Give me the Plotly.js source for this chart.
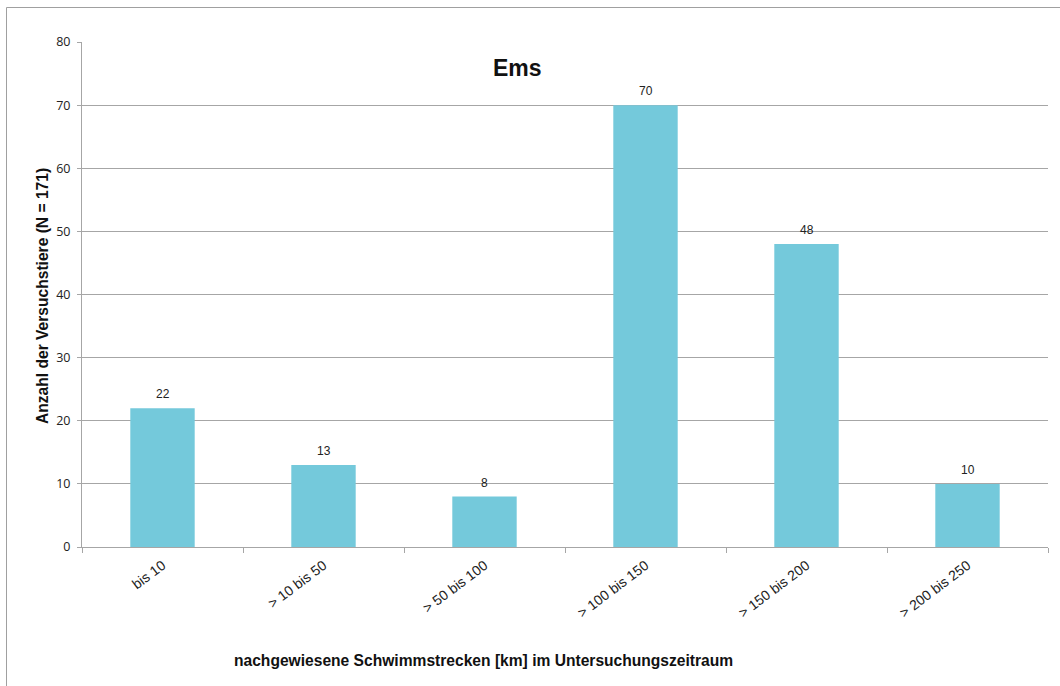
<!DOCTYPE html>
<html>
<head>
<meta charset="utf-8">
<script src="https://cdn.plot.ly/plotly-3.0.1.min.js"></script>
<style>
  html, body { margin: 0; padding: 0; background: #fff; }
  #chart { width: 1060px; height: 686px; }
</style>
</head>
<body>
<div id="chart"></div>
<script>
// Schwimmstrecken der Versuchstiere an der Ems
const categories = ["bis 10", "> 10 bis 50", "> 50 bis 100", "> 100 bis 150", "> 150 bis 200", "> 200 bis 250"];
const counts = [22, 13, 8, 70, 48, 10];
const yTicks = [0, 10, 20, 30, 40, 50, 60, 70, 80];

const W = 1060, H = 686;
const margin = { l: 82, r: 12, t: 42, b: 139 };
const plotW = W - margin.l - margin.r;
const plotH = H - margin.t - margin.b;
// pixel position -> paper coordinate
const px = x => (x - margin.l) / plotW;
const py = y => (H - margin.b - y) / plotH;

const axisGray = "#A6A6A6";
const labelFont = { family: "Liberation Sans, Arial, sans-serif", size: 12, color: "#222" };

const trace = {
  type: "bar",
  x: categories,
  y: counts,
  marker: { color: "#74C9DB", line: { width: 0 } },
  hoverinfo: "x+y"
};

// value labels above each bar
const valueLabels = categories.map((c, i) => ({
  x: c,
  y: counts[i],
  xref: "x", yref: "y",
  text: String(counts[i]),
  showarrow: false,
  xanchor: "center", yanchor: "bottom",
  yshift: 5,
  font: labelFont
}));

const layout = {
  width: W,
  height: H,
  margin: margin,
  paper_bgcolor: "#fff",
  plot_bgcolor: "#fff",
  bargap: 0.6,
  showlegend: false,
  font: { family: "Liberation Sans, Arial, sans-serif", size: 12, color: "#222" },
  xaxis: {
    type: "category",
    tickangle: -37,
    tickson: "boundaries",
    ticks: "outside",
    ticklen: 5,
    tickcolor: axisGray,
    ticklabelstandoff: 4,
    showline: true,
    linecolor: axisGray,
    linewidth: 1,
    showgrid: false,
    tickfont: { family: "Liberation Sans, Arial, sans-serif", size: 14, color: "#222" }
  },
  yaxis: {
    range: [0, 80],
    tickvals: yTicks,
    ticks: "outside",
    ticklen: 4,
    tickcolor: axisGray,
    ticklabelstandoff: 4,
    showline: true,
    linecolor: axisGray,
    linewidth: 1,
    showgrid: true,
    gridcolor: axisGray,
    gridwidth: 1,
    zeroline: false,
    tickfont: { family: "Open Sans, sans-serif", size: 12.5, color: "#222" }
  },
  annotations: valueLabels.concat([
    {
      text: "<b>Ems</b>",
      xref: "paper", yref: "paper",
      x: px(517), y: py(68),
      xanchor: "center", yanchor: "middle",
      showarrow: false,
      font: { family: "Liberation Sans, Arial, sans-serif", size: 23, color: "#111" }
    },
    {
      text: "<b>Anzahl der Versuchstiere (N = 171)</b>",
      xref: "paper", yref: "paper",
      x: px(42), y: py(296),
      xanchor: "center", yanchor: "middle",
      textangle: -90,
      showarrow: false,
      font: { family: "Liberation Sans, Arial, sans-serif", size: 15.6, color: "#111" }
    },
    {
      text: "<b>nachgewiesene Schwimmstrecken [km] im Untersuchungszeitraum</b>",
      xref: "paper", yref: "paper",
      x: px(483), y: py(660),
      xanchor: "center", yanchor: "middle",
      showarrow: false,
      font: { family: "Liberation Sans, Arial, sans-serif", size: 15.6, color: "#111" }
    }
  ]),
  shapes: [
    {
      type: "rect",
      xref: "paper", yref: "paper",
      x0: px(6.5), x1: px(1075),
      y0: py(700), y1: py(7.5),
      line: { color: "#A0A0A0", width: 1 },
      fillcolor: "rgba(0,0,0,0)",
      layer: "below"
    }
  ]
};

Plotly.newPlot("chart", [trace], layout, { displayModeBar: false, staticPlot: true });
</script>
</body>
</html>
